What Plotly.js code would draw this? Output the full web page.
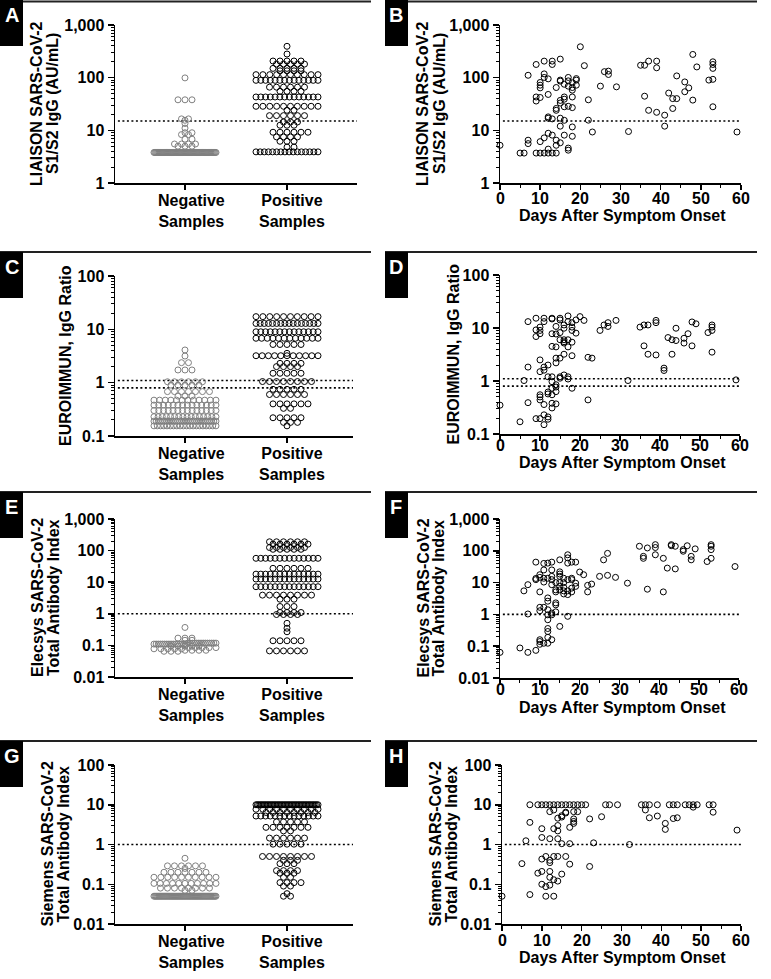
<!DOCTYPE html>
<html><head><meta charset="utf-8">
<script src="https://cdn.plot.ly/plotly-3.0.1.min.js"></script>
<style>body{margin:0;background:#fff}#chart{width:771px;height:979px}</style>
</head><body><div id="chart"></div>
<script>
// ---------------- DATA ----------------
const categories = ['Negative', 'Positive'];
const categorySub = 'Samples';

// Dot-plot rows: [value, number of samples]
const liaisonNegRows = [[99,1],[38,3],[16.5,2],[15.5,1],[13.5,1],[11,1],[9,2],[8.3,2],[6.8,2],[5.5,4],[5,3],[3.8,70]];
const liaisonPosRows = [[394,1],[281,1],[207,5],[181,5],[150,5],[135,4],[114,10],[89,14],[66,6],[55,4],[43,14],[28.6,10],[24,2],[19,6],[14.4,3],[12.5,3],[9.2,6],[7.5,4],[6.2,3],[4.8,2],[3.9,16]];
const euroNegRows = [[4.1,1],[3.16,1],[2.37,2],[1.73,3],[1.04,6],[0.9,5],[0.68,7],[0.56,3],[0.47,12],[0.38,14],[0.3,14],[0.23,16],[0.19,30],[0.155,20]];
const euroPosRows = [[17.3,10],[12.9,16],[9.0,14],[6.8,12],[5.2,5],[3.55,1],[3.2,11],[2.3,4],[2.0,4],[1.5,5],[1.05,8],[0.75,5],[0.6,6],[0.4,6],[0.33,2],[0.22,5],[0.18,3],[0.155,1]];
const elecsysNegRows = [[0.37,1],[0.17,3],[0.145,2],[0.118,14],[0.11,16],[0.095,5],[0.085,5],[0.078,5],[0.07,4],[0.065,3]];
const elecsysPosRows = [[190,6],[160,6],[125,6],[110,5],[57,14],[27.5,6],[18,14],[12.6,14],[7.2,14],[3.9,8],[2.9,3],[1.7,3],[1.1,4],[0.95,4],[0.5,1],[0.35,1],[0.27,1],[0.14,5],[0.067,6]];
const siemensNegRows = [[0.45,1],[0.29,6],[0.25,1],[0.2,7],[0.15,10],[0.105,11],[0.08,8],[0.07,2],[0.05,60]];
const siemensPosRows = [[10,45],[7.7,10],[6.4,8],[5.2,14],[3.7,5],[2.7,7],[2.2,2],[1.45,6],[1.02,5],[0.5,8],[0.4,3],[0.33,3],[0.22,4],[0.19,3],[0.15,2],[0.11,4],[0.09,2],[0.058,1],[0.05,2]];

// Scatter: days after symptom onset vs value
const liaisonDays = [0,5,6,7,7,7,9,9,9,9,10,10,10,10,10,10,11,11,11,11,11,12,12,12,12,12,12,12,13,13,13,13,13,14,14,14,14,14,14,15,15,15,15,15,15,15,15,16,16,16,16,16,16,17,17,17,17,17,17,18,18,18,18,18,18,18,19,19,19,20,21,22,22,23,25,26,27,27,29,32,35,36,36,37,37,39,39,39,41,41,42,43,43,44,44,46,46,47,48,48,49,52,53,53,53,53,53,59];
const liaisonVals = [5.2,3.7,3.7,111,6.5,5.6,178,43,36,3.7,81,72,64,42,6.1,3.7,206,118,101,7.2,3.7,95,48,18,17,8.8,4.4,3.7,206,178,16.5,8.1,3.7,65,26,24,6.5,5.2,3.7,225,90,86,37,33,17,12,5.8,75,43,39,28,15.5,8.1,101,87,69,28.6,4.6,4.2,80,65,58,43,27,11.6,7.7,96,90,72,386,169,38,15.6,9.3,69,130,133,115,67,9.5,172,172,44.5,206,24,206,154,22,19.4,12,51,40,26,108,40,83,54,64,276,37.5,160,90,200,178,150,93,28,9.3];

const euroDays = [0,5,6,7,7,7,9,9,9,9,10,10,10,10,10,10,10,10,10,11,11,11,11,11,11,11,12,12,12,12,12,12,13,13,13,13,13,13,13,13,13,13,14,14,14,14,14,14,14,14,14,15,15,15,15,15,15,15,16,16,16,16,16,16,16,17,17,17,17,17,17,18,18,18,18,18,18,19,19,20,21,22,22,23,25,26,27,27,29,32,35,36,36,37,37,39,39,39,41,41,42,43,43,44,44,46,46,47,48,48,49,52,53,53,53,53,59];
const euroVals = [0.35,0.17,1.02,13.2,1.83,0.39,15.3,9.2,6.9,0.195,10.4,9,7.8,2.5,1.5,0.55,0.5,0.44,0.195,15.3,13.2,1.83,1.6,0.36,0.23,0.15,2.0,1.2,0.62,0.57,0.21,0.19,15.3,14.8,7.8,4.5,1.2,0.97,0.73,0.55,0.38,0.31,10.7,7.7,4.4,2.7,2.2,0.85,0.77,0.63,0.37,15.3,14.2,8.2,6.0,2.7,1.2,1.13,11.4,9.9,6.0,5.5,5.2,3.2,1.3,16.9,13.2,6.0,4.4,1.2,1.09,12.6,10.4,9.0,5.4,3.0,0.73,14.2,8.0,16.4,13.9,2.8,0.44,2.7,9.0,11.4,12.6,10.7,13.9,1.02,10.4,11.4,4.6,11.4,3.2,13.9,12.6,3.1,1.75,1.58,6.6,6.0,3.2,9.9,5.8,6.4,5.2,7.8,13,4.6,12,8.2,11.4,10.4,9,3.5,1.05];

const elecsysDays = [0,5,6,7,7,7,9,9,9,9,10,10,10,10,10,10,10,10,11,11,11,11,11,11,12,12,12,12,12,12,12,12,12,12,12,13,13,13,13,13,13,13,13,14,14,14,14,14,14,15,15,15,15,15,15,15,15,16,16,16,16,16,17,17,17,17,17,17,17,18,18,18,18,18,19,19,19,20,21,22,22,23,25,26,27,27,29,32,35,36,36,37,37,39,39,39,41,41,42,43,43,44,44,46,46,47,48,48,49,52,53,53,53,53,59];
const elecsysVals = [0.064,0.088,5.5,8.6,1.03,0.064,44,13.5,12.4,0.074,17.7,14.6,5.1,1.67,1.3,0.16,0.14,0.115,40,25,13.7,10.4,1.67,0.124,41,13.7,3.3,2.6,1.4,0.97,0.68,0.36,0.29,0.19,0.124,44,25,15.7,12.4,8.6,1.1,0.97,0.16,10,5.9,5.1,2.3,2.0,1.2,52,21.8,18.6,15.7,10,7.6,5.9,0.42,13.7,10,7.1,5.5,4.4,75,60,41,12.4,5.5,4.2,0.87,44,13.7,12.4,6.7,5.1,44,9.6,7.6,21.5,17.7,8.2,5.1,9.0,15.7,52,83,16.9,14.6,9.6,139,67,58,123,6.2,156,127,75,58,5.1,28.6,156,145,139,27,109,97,144,67,52,115,46,156,139,109,58,32];

const siemensDays = [0,5,6,7,7,7,9,9,10,10,10,10,10,10,11,11,11,11,12,12,12,12,12,12,12,12,13,13,13,13,13,13,14,14,14,14,14,14,14,15,15,15,15,15,16,16,16,16,17,17,17,17,18,18,18,18,18,19,19,20,21,22,22,23,25,26,27,29,32,35,36,36,37,37,39,39,41,41,42,43,43,44,44,46,47,48,48,49,52,53,53,59];
const siemensVals = [0.05,0.33,1.24,10,3.6,0.055,10,0.19,10,2.5,1.5,0.43,0.21,0.1,10,0.5,0.087,0.05,10,6.7,1.4,0.4,0.35,0.21,0.15,0.095,10,7.4,2.5,0.5,0.13,0.05,10,4.6,3.0,2.2,1.4,0.5,0.12,10,5.3,4.9,1.05,0.18,10,6.5,6.2,0.5,10,2.7,1.05,0.32,10,6.7,4.4,3.8,3.4,10,6.7,10,10,4.4,0.28,1.1,5.0,10,10,10,1.0,10,10,7.4,10,4.7,10,5.2,3.4,2.4,10,10,4.5,10,4.7,10,10,10,8.7,10,10,10,6.5,2.3];

// Positivity cutoffs
const liaisonCutoffs = [15];
const euroCutoffs = [0.8, 1.1];
const elecsysCutoffs = [1];
const siemensCutoffs = [1];

// Axis tick labels
const liaisonTicks = [1,10,100,1000], liaisonTickText = ['1','10','100','1,000'];
const euroTicks = [0.1,1,10,100], euroTickText = ['0.1','1','10','100'];
const elecsysTicks = [0.01,0.1,1,10,100,1000], elecsysTickText = ['0.01','0.1','1','10','100','1,000'];
const siemensTicks = [0.01,0.1,1,10,100], siemensTickText = ['0.01','0.1','1','10','100'];
const dayTicks = [0,10,20,30,40,50,60];
const dayTitle = 'Days After Symptom Onset';

// ---------------- LAYOUT ----------------
const W = 771, H = 979;
const FONT = 'Liberation Sans, Arial, Helvetica, sans-serif';
const NEG = '#808080';
const DOT = 7, MAXW = 62;

const panels = [
  {L:'A', kind:'cat', xpx:[115,357], xr:[0.314,2.686], ypx:[25,183], yr:[0,3], neg:liaisonNegRows, pos:liaisonPosRows, cut:liaisonCutoffs, tv:liaisonTicks, tt:liaisonTickText, title:['LIAISON SARS-CoV-2','S1/S2 IgG (AU/mL)'], tx:[37,53], sep:1.5, col:0},
  {L:'B', kind:'day', xpx:[500,741], xr:[0,60], ypx:[25,183], yr:[0,3], dx:liaisonDays, dy:liaisonVals, cut:liaisonCutoffs, tv:liaisonTicks, tt:liaisonTickText, title:['LIAISON SARS-CoV-2','S1/S2 IgG (AU/mL)'], tx:[423,440], sep:1.5, col:1, lab:15, ttl:33},
  {L:'C', kind:'cat', xpx:[115,353], xr:[0.314,2.647], ypx:[276,436], yr:[-1,2], neg:euroNegRows, pos:euroPosRows, cut:euroCutoffs, tv:euroTicks, tt:euroTickText, title:['EUROIMMUN, IgG Ratio'], tx:[65], sep:252, col:0},
  {L:'D', kind:'day', xpx:[500,740], xr:[0,60], ypx:[275,434], yr:[-1,2], dx:euroDays, dy:euroVals, cut:euroCutoffs, tv:euroTicks, tt:euroTickText, title:['EUROIMMUN, IgG Ratio'], tx:[453], sep:252, col:1, lab:11, ttl:28},
  {L:'E', kind:'cat', xpx:[115,353], xr:[0.314,2.647], ypx:[519,677], yr:[-2,3], neg:elecsysNegRows, pos:elecsysPosRows, cut:elecsysCutoffs, tv:elecsysTicks, tt:elecsysTickText, title:['Elecsys SARS-CoV-2','Total Antibody Index'], tx:[37,53], sep:492, col:0},
  {L:'F', kind:'day', xpx:[500,739], xr:[0,60], ypx:[519,678], yr:[-2,3], dx:elecsysDays, dy:elecsysVals, cut:elecsysCutoffs, tv:elecsysTicks, tt:elecsysTickText, title:['Elecsys SARS-CoV-2','Total Antibody Index'], tx:[423,438], sep:492, col:1, lab:11, ttl:29},
  {L:'G', kind:'cat', xpx:[115,353], xr:[0.314,2.647], ypx:[765,924], yr:[-2,2], neg:siemensNegRows, pos:siemensPosRows, cut:siemensCutoffs, tv:siemensTicks, tt:siemensTickText, title:['Siemens SARS-CoV-2','Total Antibody Index'], tx:[47,63], sep:741, col:0},
  {L:'H', kind:'day', xpx:[502,741], xr:[0,60], ypx:[765,924], yr:[-2,2], dx:siemensDays, dy:siemensVals, cut:siemensCutoffs, tv:siemensTicks, tt:siemensTickText, title:['Siemens SARS-CoV-2','Total Antibody Index'], tx:[435,451], sep:741, col:1, lab:16, ttl:33}
];

function minorVals(yr){
  const out=[];
  for(let k=yr[0];k<yr[1];k++) for(let m=2;m<=9;m++) out.push(m*Math.pow(10,k));
  return out;
}

// Prism-style dot plot layout: points sorted into rows, spread horizontally
function swarm(rows, cat, pxPerDecade, pxPerUnit){
  const vals=[];
  rows.forEach(r=>{for(let k=0;k<r[1];k++) vals.push(r[0]);});
  vals.sort((a,b)=>a-b);
  const groups=[]; let cur=null;
  vals.forEach(v=>{
    const yp=Math.log10(v)*pxPerDecade;
    if(cur && yp-cur.y0<=1.2) cur.v.push(v); else {cur={y0:yp,v:[v]}; groups.push(cur);}
  });
  const xs=[], ys=[]; let prev=null;
  groups.forEach(g=>{
    const n=g.v.length;
    const sp = n>1 ? Math.min(DOT, MAXW/(n-1)) : 0;
    let shift=0;
    if(prev && g.y0-prev.y0 < DOT && (n%2)===(prev.n%2) && sp===DOT) shift = prev.shift ? 0 : DOT/2;
    g.v.forEach((v,i)=>{ xs.push(cat + ((i-(n-1)/2)*sp + shift)/pxPerUnit); ys.push(v); });
    prev={y0:g.y0,n,shift};
  });
  return {xs, ys};
}

const traces=[], annotations=[], shapes=[];
const layout = {width:W, height:H, margin:{l:0,r:0,t:0,b:0}, paper_bgcolor:'white', plot_bgcolor:'rgba(0,0,0,0)',
  showlegend:false, annotations, shapes, font:{family:FONT, color:'black'}};
const tfont = {family:FONT, size:16, color:'black', weight:'bold'};

panels.forEach((p,idx)=>{
  const i=idx+1;
  const xn = i===1?'x':'x'+i, yn = i===1?'y':'y'+i;
  const xk = i===1?'xaxis':'xaxis'+i, yk = i===1?'yaxis':'yaxis'+i;
  const xa = {domain:[p.xpx[0]/W, p.xpx[1]/W], range:p.xr, anchor:yn, showline:true, linecolor:'black', linewidth:1.5,
    ticks:'outside', ticklen:5, tickwidth:1.5, tickcolor:'black', showgrid:false, zeroline:false, tickfont:tfont, fixedrange:true,
    showticklabels:false, tickmode:'array'};
  if(p.kind==='cat'){
    xa.tickvals=[1,2];
  } else {
    xa.tickvals=dayTicks;
    xa.minor={tickmode:'linear', tick0:0, dtick:5, ticks:'outside', ticklen:3, tickwidth:1, tickcolor:'black'};
  }
  layout[xk]=xa;
  layout[yk]={type:'log', domain:[1-p.ypx[1]/H, 1-p.ypx[0]/H], range:p.yr, anchor:xn, showline:true, linecolor:'black', linewidth:1.5,
    ticks:'outside', ticklen:6, tickwidth:1.5, tickcolor:'black', showgrid:false, zeroline:false, tickfont:tfont, fixedrange:true,
    tickmode:'array', tickvals:p.tv, ticktext:p.tt,
    minor:{tickmode:'array', tickvals:minorVals(p.yr), ticks:'outside', ticklen:3, tickwidth:1, tickcolor:'black'}};

  // cutoff lines
  p.cut.forEach(c=>{
    traces.push({type:'scatter', mode:'lines', x:[p.xr[0]+(p.xr[1]-p.xr[0])*0.012, p.xr[1]], y:[c,c], xaxis:xn, yaxis:yn,
      line:{color:'black', width:1.6, dash:'2px,2.5px'}, hoverinfo:'skip'});
  });

  const axisY = p.ypx[1];
  if(p.kind==='cat'){
    const pxPerDecade = (p.ypx[1]-p.ypx[0])/(p.yr[1]-p.yr[0]);
    const pxPerUnit = (p.xpx[1]-p.xpx[0])/(p.xr[1]-p.xr[0]);
    const n = swarm(p.neg, 1, pxPerDecade, pxPerUnit);
    const q = swarm(p.pos, 2, pxPerDecade, pxPerUnit);
    traces.push({type:'scatter', mode:'markers', x:n.xs, y:n.ys, xaxis:xn, yaxis:yn, cliponaxis:false,
      marker:{symbol:'circle-open', size:6, color:NEG, line:{width:1, color:NEG}}});
    traces.push({type:'scatter', mode:'markers', x:q.xs, y:q.ys, xaxis:xn, yaxis:yn, cliponaxis:false,
      marker:{symbol:'circle-open', size:6, color:'black', line:{width:1, color:'black'}}});
    [[191,0],[292,1]].forEach(([cx,ci])=>{
      annotations.push({xref:'paper', yref:'paper', x:cx/W, y:1-(axisY+8)/H, text:categories[ci]+'<br>'+categorySub,
        showarrow:false, xanchor:'center', yanchor:'top', align:'center', borderpad:0, font:tfont});
    });
  } else {
    traces.push({type:'scatter', mode:'markers', x:p.dx, y:p.dy, xaxis:xn, yaxis:yn, cliponaxis:false,
      marker:{symbol:'circle-open', size:6, color:'black', line:{width:1, color:'black'}}});
    dayTicks.forEach(d=>{
      annotations.push({xref:xn, yref:'paper', x:d, y:1-(axisY+p.lab)/H, text:String(d), showarrow:false, xanchor:'center', yanchor:'middle', font:tfont});
    });
    annotations.push({xref:'paper', yref:'paper', x:622/W, y:1-(axisY+p.ttl)/H, text:dayTitle, showarrow:false, xanchor:'center', yanchor:'middle', font:tfont});
  }

  // y titles
  const cy = (p.ypx[0]+p.ypx[1])/2;
  p.title.forEach((t,k)=>{
    annotations.push({xref:'paper', yref:'paper', x:p.tx[k]/W, y:1-cy/H, text:t, textangle:-90, showarrow:false, xanchor:'center', yanchor:'middle', font:tfont});
  });

  // separator line, letter box
  const x0 = p.col===0 ? 0 : 385, x1 = p.col===0 ? 371 : 757;
  shapes.push({type:'line', xref:'paper', yref:'paper', x0:x0/W, x1:x1/W, y0:1-p.sep/H, y1:1-p.sep/H, line:{color:'#222', width:2}});
  const top = p.sep<5 ? 0 : p.sep;
  shapes.push({type:'rect', xref:'paper', yref:'paper', x0:x0/W, x1:(x0+23)/W, y0:1-top/H, y1:1-(top+46)/H, fillcolor:'black', line:{width:0}});
  annotations.push({xref:'paper', yref:'paper', x:(x0+11.5)/W, y:1-(top+15)/H, text:p.L, showarrow:false, xanchor:'center', yanchor:'middle',
    font:{family:FONT, size:20, color:'white', weight:'bold'}});
});

Plotly.newPlot('chart', traces, layout, {staticPlot:true});
</script>
</body></html>
